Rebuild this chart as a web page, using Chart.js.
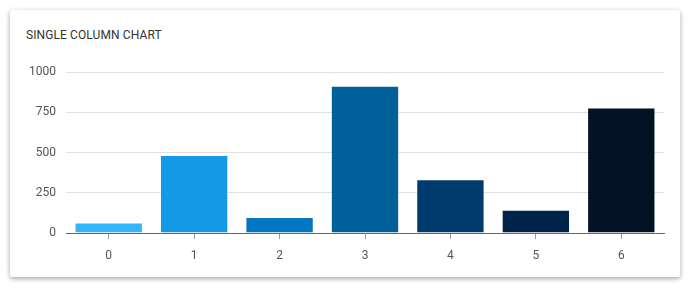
<!DOCTYPE html>
<html>
<head>
<meta charset="utf-8">
<script src="https://cdn.jsdelivr.net/npm/chart.js@4"></script>
<style>
  html, body { margin: 0; padding: 0; background: #ffffff; width: 690px; height: 289px; overflow: hidden; font-family: Roboto, "Noto Sans", sans-serif; }
  .card { position: absolute; left: 10px; top: 10px; width: 670px; height: 267px; background: #fff; border-radius: 2px;
          box-shadow: 0 2px 4px rgba(0,0,0,0.25), 0 1px 6px rgba(0,0,0,0.12); }
  .title { position: absolute; left: 16px; top: 18px; font-size: 12px; color: #333; letter-spacing: 0.1px; }
  .wrap { position: absolute; left: 0; top: 45px; width: 670px; height: 222px; }
</style>
</head>
<body>
<div class="card">
  <div class="title">SINGLE COLUMN CHART</div>
  <div class="wrap"><canvas id="c"></canvas></div>
</div>
<script>
const categories = ["0", "1", "2", "3", "4", "5", "6"];
const values = [65, 485, 100, 915, 335, 145, 780];
const barColors = ["#33b4ff", "#1399e6", "#0077c0", "#00609a", "#003b6d", "#00234a", "#031224"];
const yTicks = [0, 250, 500, 750, 1000];

new Chart(document.getElementById("c"), {
  type: "bar",
  data: {
    labels: categories,
    datasets: [{
      data: values,
      backgroundColor: barColors,
      borderColor: "rgba(255,255,255,0.35)",
      borderWidth: 1,
      barPercentage: 0.8,
      categoryPercentage: 1.0
    }]
  },
  options: {
    responsive: true,
    maintainAspectRatio: false,
    animation: false,
    layout: { padding: { top: 10, right: 16, left: 0, bottom: 0 } },
    plugins: { legend: { display: false }, tooltip: { enabled: false } },
    scales: {
      x: {
        grid: { display: true, drawOnChartArea: false, offset: false, tickLength: 6, color: "#999", tickColor: "#999" },
        border: { display: true, color: "#666", width: 1 },
        ticks: { color: "#555", font: { family: "Roboto", size: 12 }, padding: 10 },
        afterFit: (s) => { s.height = 44; }
      },
      y: {
        min: 0, max: 1000,
        afterBuildTicks: (s) => { s.ticks = yTicks.map(v => ({ value: v })); },
        grid: { color: "#e0e0e0", drawTicks: false },
        border: { display: false },
        ticks: { color: "#555", font: { family: "Roboto", size: 12 }, padding: 10, callback: (v) => String(v) },
        afterFit: (s) => { s.width = 56; }
      }
    }
  }
});
</script>
</body>
</html>
